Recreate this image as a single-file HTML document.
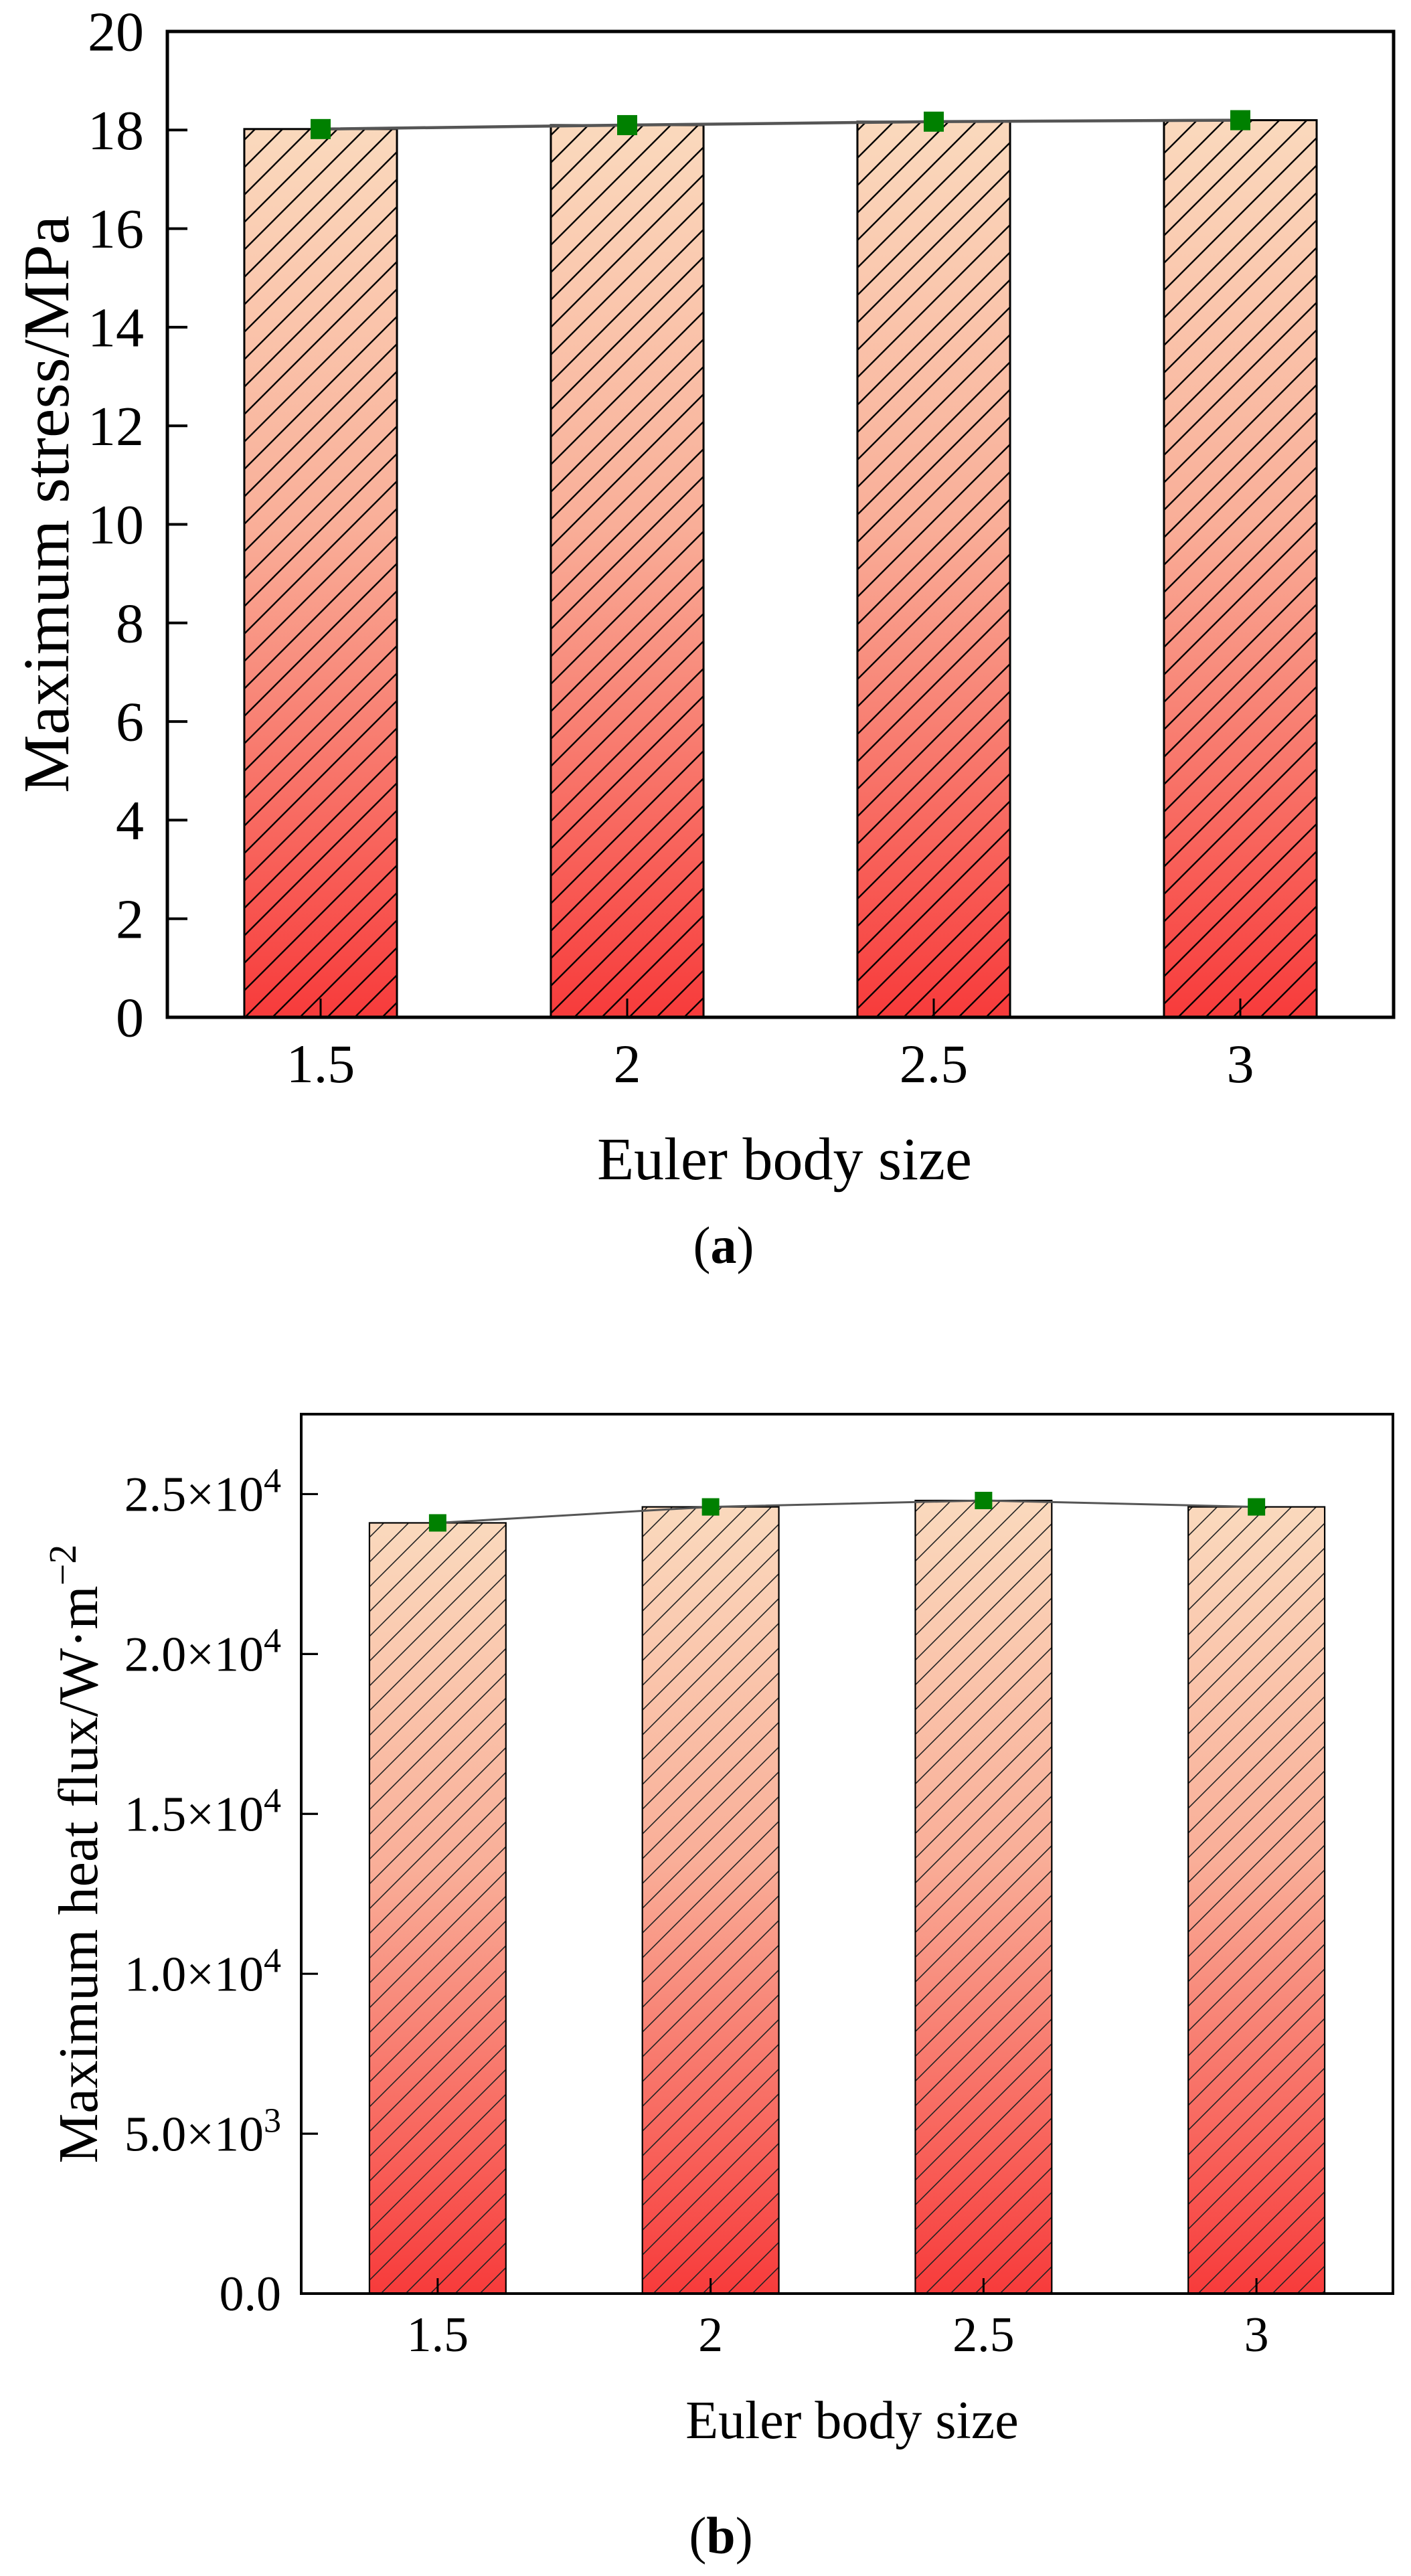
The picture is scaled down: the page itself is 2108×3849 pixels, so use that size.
<!DOCTYPE html>
<html><head><meta charset="utf-8">
<style>
html,body{margin:0;padding:0;background:#fff;}
svg{display:block;font-family:"Liberation Serif","Times New Roman",serif;}
</style></head>
<body>
<svg id="fig" width="2108" height="3849" viewBox="0 0 2108 3849" xmlns="http://www.w3.org/2000/svg">
<defs>
<linearGradient id="barGrad" x1="0" y1="0" x2="0" y2="1">
<stop offset="0" stop-color="#FAD9BD"/>
<stop offset="0.45" stop-color="#F9AE98"/>
<stop offset="1" stop-color="#F73B3B"/>
</linearGradient>
<pattern id="hatchA" patternUnits="userSpaceOnUse" width="41" height="41">
<path d="M-5,46 L46,-5 M-10.5,10.5 L10.5,-10.5 M30.5,51.5 L51.5,30.5" stroke="#000" stroke-width="2.4"/>
</pattern>
<pattern id="hatchB" patternUnits="userSpaceOnUse" width="37" height="37">
<path d="M-5,42 L42,-5 M-9.5,9.5 L9.5,-9.5 M27.5,46.5 L46.5,27.5" stroke="#222" stroke-width="1.6"/>
</pattern>
</defs>
<g id="chartA"></g>
<g id="chartB"></g>
</svg>
<script>
// ---- data ----
const categories = [1.5, 2, 2.5, 3];
const categoryLabels = ["1.5", "2", "2.5", "3"];
const stressValues = [18.02, 18.1, 18.17, 18.2];
const heatFluxValues = [24100, 24600, 24800, 24600];
const stressTicks = [0, 2, 4, 6, 8, 10, 12, 14, 16, 18, 20];
const stressTickLabels = ["0","2","4","6","8","10","12","14","16","18","20"];
const fluxTicks = [0, 5000, 10000, 15000, 20000, 25000];
const fluxTickMant = ["0.0","5.0","1.0","1.5","2.0","2.5"];
const fluxTickExp = ["","3","4","4","4","4"];

const NS = "http://www.w3.org/2000/svg";
function mk(tag, attrs, parent){
  const e = document.createElementNS(NS, tag);
  for (const k in attrs) e.setAttribute(k, attrs[k]);
  parent.appendChild(e);
  return e;
}

function drawChart(g, cfg, values, ticks, tickLabelFn){
  const xs = v => cfg.left + (v - cfg.xMin) / (cfg.xMax - cfg.xMin) * (cfg.right - cfg.left);
  const ys = v => cfg.bottom - (v - cfg.yMin) / (cfg.yMax - cfg.yMin) * (cfg.bottom - cfg.top);
  const bw = xs(cfg.xMin + cfg.barW) - xs(cfg.xMin);
  categories.forEach((c, i) => {
    const x = xs(c) - bw/2, y = ys(values[i]), h = ys(0) - y;
    const r = mk("rect", {x:x, y:y, width:bw, height:h, fill:"url(#barGrad)"}, g);
    
    
    const hr = mk("rect", {x:x, y:y, width:bw, height:h, fill:"url(#" + cfg.hatch + ")", stroke:"#000", "stroke-width":cfg.barStroke}, g);
    
    
  });
  categories.forEach((c, i) => {
    const t = mk("line", {x1:xs(c), x2:xs(c), y1:cfg.bottom, y2:cfg.bottom - cfg.xTickLen, stroke:"#000", "stroke-width":3}, g);
    
    
    const tl = mk("text", {x:xs(c), y:cfg.xLabelBase, "text-anchor":"middle", "font-size":cfg.xTickFont}, g);
    tl.textContent = categoryLabels[i];
    
    
  });
  ticks.forEach((v, i) => {
    const t = mk("line", {x1:cfg.left, x2:cfg.left + cfg.yTickLen, y1:ys(v), y2:ys(v), stroke:"#000", "stroke-width":cfg.axisW*0.8}, g);
    
    
    const tl = mk("text", {x:cfg.yLabelRight, y:ys(v) + cfg.yTickFont*0.34, "text-anchor":"end", "font-size":cfg.yTickFont}, g);
    tickLabelFn(tl, i);
    
    
  });
  const fr = mk("rect", {x:cfg.left, y:cfg.top, width:cfg.right - cfg.left, height:cfg.bottom - cfg.top, fill:"none", stroke:"#000", "stroke-width":cfg.axisW}, g);
  
  
  const pts = categories.map((c, i) => xs(c) + "," + ys(values[i])).join(" ");
  const pl = mk("polyline", {points:pts, fill:"none", stroke:"#555", "stroke-width":cfg.lineW}, g);
  
  
  categories.forEach((c, i) => {
    const m = mk("rect", {x:xs(c) - cfg.mk/2, y:ys(values[i]) - cfg.mk/2, width:cfg.mk, height:cfg.mk, fill:"#008000"}, g);
    
    
  });
  const xt = mk("text", {x:cfg.xTitleX, y:cfg.xTitleY, "text-anchor":"middle", "font-size":cfg.titleFont}, g);
  xt.textContent = "Euler body size";
  
  
  const yt = mk("text", {x:0, y:0, "text-anchor":"middle", "font-size":cfg.yTitleFont,
    transform:"translate(" + cfg.yTitleX + "," + ((cfg.top + cfg.bottom)/2 + cfg.yTitleShift) + ") rotate(-90)"}, g);
  yt.innerHTML = cfg.yTitle;
  
  
  const cap = mk("text", {x:cfg.capX, y:cfg.capY, "text-anchor":"middle", "font-size":78}, g);
  cap.innerHTML = '(<tspan font-weight="bold">' + cfg.cap + '</tspan>)';
  
  
}

drawChart(document.getElementById("chartA"), {
  left:250, right:2082, top:47, bottom:1520, xMin:1.25, xMax:3.25, yMin:0, yMax:20, barW:0.249,
  hatch:"hatchA", barStroke:3, axisW:5, lineW:4.5, mk:30, xTickLen:28, yTickLen:30,
  xTickFont:82, yTickFont:84, xLabelBase:1617, yLabelRight:215,
  titleFont:90, yTitleFont:98, xTitleX:1172, xTitleY:1762, yTitleX:102, yTitleShift:-30,
  yTitle:"Maximum stress/MPa", cap:"a", capX:1081, capY:1887
}, stressValues, stressTicks, (tl, i) => { tl.textContent = stressTickLabels[i]; });

drawChart(document.getElementById("chartB"), {
  left:450, right:2081, top:2113, bottom:3427, xMin:1.25, xMax:3.25, yMin:0, yMax:27500, barW:0.25,
  hatch:"hatchB", barStroke:2.2, axisW:4, lineW:3, mk:26, xTickLen:23, yTickLen:25,
  xTickFont:74, yTickFont:74, xLabelBase:3513, yLabelRight:420,
  titleFont:80, yTitleFont:84, xTitleX:1273, xTitleY:3643, yTitleX:145, yTitleShift:0,
  yTitle:'Maximum heat flux/W·m<tspan baseline-shift="super" font-size="58">−2</tspan>', cap:"b", capX:1077, capY:3815
}, heatFluxValues, fluxTicks, (tl, i) => {
  if (fluxTickExp[i] === "") { tl.textContent = fluxTickMant[i]; }
  else { tl.innerHTML = fluxTickMant[i] + '×10<tspan baseline-shift="super" font-size="52">' + fluxTickExp[i] + '</tspan>'; }
});
</script>
</body></html>
